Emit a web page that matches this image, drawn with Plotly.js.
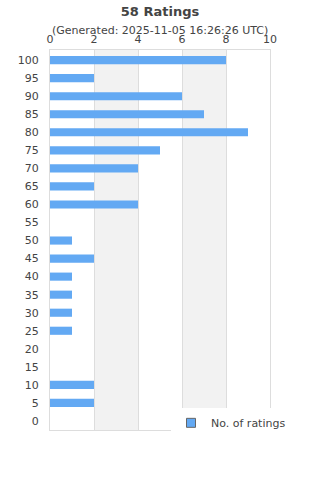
<!DOCTYPE html>
<html><head><meta charset="utf-8">
<script src="https://cdn.plot.ly/plotly-3.0.1.min.js"></script>
<style>html,body{margin:0;padding:0;background:#fff}#chart{width:320px;height:480px}</style>
</head><body><div id="chart"></div>
<script>
const ratings = [100,95,90,85,80,75,70,65,60,55,50,45,40,35,30,25,20,15,10,5,0];
const counts  = [8,2,6,7,9,5,4,2,4,0,1,2,1,1,1,1,0,0,2,2,0];
const xTicks = [0,2,4,6,8,10];
const seriesName = 'No. of ratings';
const titleText = '58 Ratings';
const subtitleText = '(Generated: 2025-11-05 16:26:26 UTC)';
const barColor = '#63a9f3';
const font = 'DejaVu Sans, sans-serif';

const traces = [
  {type:'bar', orientation:'h', x:counts, y:ratings, width:2.25,
   marker:{color:barColor}, showlegend:false, hoverinfo:'x+y'},
  {type:'scatter', mode:'markers', x:[null], y:[null], name:seriesName,
   marker:{symbol:'square', size:9, color:barColor, line:{color:'#666', width:1}}}
];
const bands = [[2,4],[6,8]].map(b=>({type:'rect', xref:'x', yref:'paper', x0:b[0], x1:b[1], y0:0, y1:1,
  fillcolor:'#f2f2f2', line:{width:0}, layer:'below'}));
const layout = {
  width:320, height:480, paper_bgcolor:'#fff', plot_bgcolor:'#fff',
  margin:{l:50, r:50, t:50, b:50},
  font:{family:font, color:'#444', size:11},
  title:{text:'<b>'+titleText+'</b>', font:{size:13, color:'#444', family:font}, x:0.5, xanchor:'center', y:0.977, yanchor:'middle'},
  annotations:[{text:subtitleText, xref:'paper', yref:'paper', x:0.5, y:1, yshift:20, xanchor:'center', yanchor:'middle', showarrow:false, font:{size:11, color:'#444'}}],
  xaxis:{side:'top', range:[0,10], tickvals:xTicks, ticktext:xTicks.map(String), showgrid:true, gridcolor:'#ddd',
         zeroline:false, showline:true, mirror:true, linecolor:'#ddd', linewidth:1, ticks:'', ticklabelstandoff:2, tickfont:{size:11}},
  yaxis:{range:[-2.5,102.8], tickvals:ratings, ticktext:ratings.map(String), showgrid:false, zeroline:false,
         showline:true, mirror:true, linecolor:'#ddd', linewidth:1, ticks:'', ticklabelstandoff:8, tickfont:{size:11}},
  shapes:bands,
  legend:{x:0.55, y:0.057, xanchor:'left', yanchor:'top', bgcolor:'#fff', font:{size:11}, itemwidth:30, tracegroupgap:0},
  bargap:0.55
};
Plotly.newPlot('chart', traces, layout, {staticPlot:true});
</script></body></html>
